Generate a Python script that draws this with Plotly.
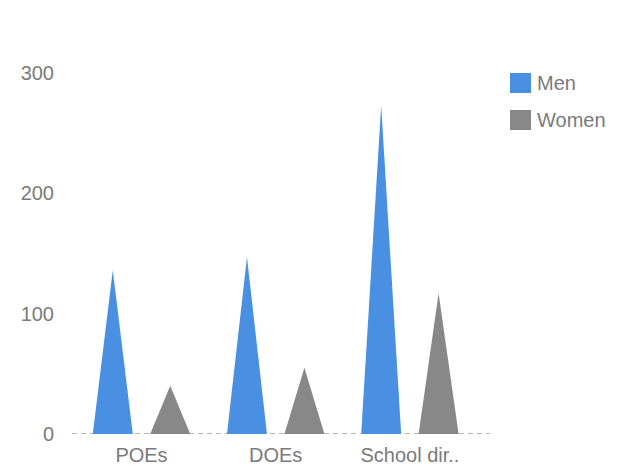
import plotly.graph_objects as go

# Data
categories = ["POEs", "DOEs", "School dir.."]
men = [136, 147, 273]
women = [40, 55, 117]
series_names = ["Men", "Women"]
series_colors = ["#4a90e2", "#888888"]

# Geometry of the triangular "bars" (in category units)
group_offset = 0.214
half_width = 0.149

text_color = "#7a7a7a"
font_family = "Liberation Sans, Arial, sans-serif"
font_size = 20

fig = go.Figure()

for s_idx, (name, values, color) in enumerate(zip(series_names, [men, women], series_colors)):
    sign = -1 if s_idx == 0 else 1
    for i, v in enumerate(values):
        cx = i + sign * group_offset
        fig.add_trace(go.Scatter(
            x=[cx - half_width, cx, cx + half_width, cx - half_width],
            y=[0, v, 0, 0],
            mode="lines",
            fill="toself",
            fillcolor=color,
            line=dict(width=0, color=color),
            name=name,
            showlegend=False,
            hoveron="fills",
            hoverinfo="text",
            text=f"{categories[i]}<br>{name}: {v}",
            cliponaxis=False,
        ))

# Plot area geometry (pixels)
W, H = 626, 469
left, right_edge = 72, 490
top, bottom_edge = 73, 434
plot_w = right_edge - left
plot_h = bottom_edge - top

# Dashed baseline at zero
fig.add_shape(type="line", xref="paper", yref="y", x0=0, x1=1, y0=0, y1=0,
              line=dict(color="#a0a0a0", width=1.3, dash="5px,4px"), layer="below")

# Legend drawn as square swatches with labels
legend_rows_y = [83, 120]
for name, color, yc in zip(series_names, series_colors, legend_rows_y):
    fig.add_shape(type="rect", xref="paper", yref="paper",
                  x0=(510 - left) / plot_w, x1=(531 - left) / plot_w,
                  y0=(bottom_edge - (yc + 10)) / plot_h, y1=(bottom_edge - (yc - 10)) / plot_h,
                  fillcolor=color, line=dict(width=0))
    fig.add_annotation(xref="paper", yref="paper",
                       x=(535 - left) / plot_w, y=(bottom_edge - yc) / plot_h,
                       text=name, showarrow=False, xanchor="left", yanchor="middle",
                       font=dict(family=font_family, size=font_size, color=text_color))

fig.update_layout(
    width=W, height=H,
    margin=dict(l=left, r=W - right_edge, t=top, b=H - bottom_edge, pad=0, autoexpand=False),
    paper_bgcolor="white",
    plot_bgcolor="white",
    showlegend=False,
    font=dict(family=font_family, size=font_size, color=text_color),
    xaxis=dict(
        range=[-0.518, 2.597],
        tickvals=list(range(len(categories))),
        ticktext=categories,
        showgrid=False, zeroline=False, showline=False,
        ticks="outside", ticklen=3, tickcolor="rgba(0,0,0,0)",
        tickfont=dict(size=font_size, color=text_color),
        automargin=False,
        fixedrange=True,
    ),
    yaxis=dict(
        range=[0, 300],
        tickvals=[0, 100, 200, 300],
        showgrid=False, zeroline=False, showline=False,
        ticks="outside", ticklen=13, tickcolor="rgba(0,0,0,0)",
        tickfont=dict(size=font_size, color=text_color),
        automargin=False,
        fixedrange=True,
    ),
)

fig.write_html("out.html")
